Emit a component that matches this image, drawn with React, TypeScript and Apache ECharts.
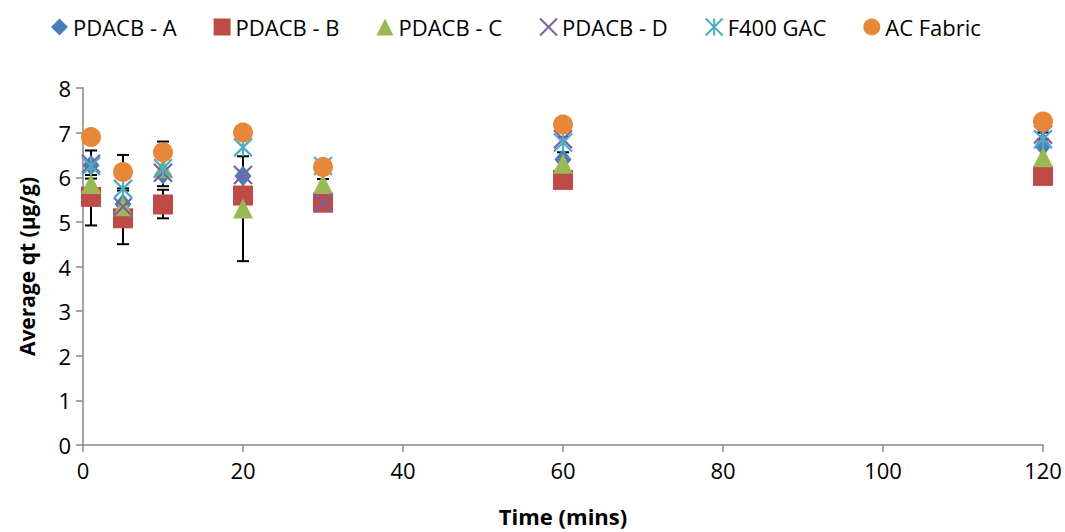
import React, { useEffect, useRef } from "react";
import * as echarts from "echarts";

const times = [1, 5, 10, 20, 30, 60, 120];
const pdacbA = [6.27, 5.4, 6.07, 6.03, 5.45, 6.4, 6.7];
const pdacbB = [5.56, 5.08, 5.39, 5.59, 5.43, 5.94, 6.03];
const pdacbC = [5.85, 5.35, 6.2, 5.3, 5.85, 6.3, 6.45];
const pdacbD = [6.3, 5.34, 6.1, 6.05, 5.43, 6.85, 6.96];
const f400 = [6.25, 5.74, 6.2, 6.67, 6.25, 6.78, 6.85];
const acFabric = [6.9, 6.12, 6.56, 7.0, 6.23, 7.18, 7.25];

// error bars: [time, low, high]
const errorBars = [
  [1, 5.97, 6.6],
  [1, 4.92, 6.05],
  [5, 5.75, 6.5],
  [5, 4.5, 5.7],
  [10, 5.8, 6.8],
  [10, 5.08, 5.72],
  [20, 4.12, 6.47],
  [30, 5.96, 6.2],
  [60, 6.56, 6.9],
  [120, 6.85, 7.0],
];

const legendNames = ["PDACB - A", "PDACB - B", "PDACB - C", "PDACB - D", "F400 GAC", "AC Fabric"];

const FONT = "'Open Sans', sans-serif";

const X_PATH = "path://M0,0 L10,10 M10,0 L0,10";
const STAR_PATH = "path://M0,0 L10,10 M10,0 L0,10 M5,0 L5,10";

export default function App() {
  const ref = useRef<HTMLDivElement>(null);
  useEffect(() => {
    document.body.style.margin = "0";
    document.body.style.overflow = "hidden";
    document.documentElement.style.overflow = "hidden";
    if (!ref.current) return;
    const chart = echarts.init(ref.current, null, { renderer: "svg" });
    const pts = (vals: number[]) => times.map((t, i) => [t, vals[i]]);
    const option: any = {
      animation: false,
      backgroundColor: "#ffffff",
      textStyle: { fontFamily: FONT },
      legend: {
        top: 11,
        left: 46,
        itemGap: 37,
        itemWidth: 17,
        itemHeight: 17,
        textStyle: { fontFamily: FONT, fontSize: 22, color: "#000" },
        data: legendNames,
      },
      grid: { left: 83, right: 22, top: 88, bottom: 83, containLabel: false },
      xAxis: {
        type: "value",
        min: 0,
        max: 120,
        interval: 20,
        name: "Time (mins)",
        nameLocation: "middle",
        nameGap: 60,
        nameTextStyle: { fontFamily: FONT, fontSize: 22, fontWeight: "bold", color: "#000" },
        axisLine: { show: true, lineStyle: { color: "#868686", width: 1.5 } },
        axisTick: { show: true, length: 7, lineStyle: { color: "#868686", width: 1.5 } },
        axisLabel: { fontFamily: FONT, fontSize: 22, color: "#000", margin: 14 },
        splitLine: { show: false },
      },
      yAxis: {
        type: "value",
        min: 0,
        max: 8,
        interval: 1,
        name: "Average qt (µg/g)",
        nameLocation: "middle",
        nameGap: 46,
        nameRotate: 90,
        nameTextStyle: { fontFamily: FONT, fontSize: 21, fontWeight: "bold", color: "#000" },
        axisLine: { show: true, lineStyle: { color: "#868686", width: 1.5 } },
        axisTick: { show: true, length: 7, lineStyle: { color: "#868686", width: 1.5 } },
        axisLabel: { fontFamily: FONT, fontSize: 22, color: "#000", margin: 12 },
        splitLine: { show: false },
      },
      series: [
        {
          type: "custom",
          name: "errors",
          z: 1,
          data: errorBars,
          encode: { x: 0, y: [1, 2] },
          renderItem: (params: any, api: any) => {
            const x = api.value(0);
            const lo = api.coord([x, api.value(1)]);
            const hi = api.coord([x, api.value(2)]);
            const w = 6;
            const style = { stroke: "#000", lineWidth: 2 };
            return {
              type: "group",
              children: [
                { type: "line", shape: { x1: lo[0], y1: lo[1], x2: hi[0], y2: hi[1] }, style },
                { type: "line", shape: { x1: lo[0] - w, y1: lo[1], x2: lo[0] + w, y2: lo[1] }, style },
                { type: "line", shape: { x1: hi[0] - w, y1: hi[1], x2: hi[0] + w, y2: hi[1] }, style },
              ],
            };
          },
        },
        {
          name: "PDACB - A",
          type: "scatter",
          z: 2,
          symbol: "diamond",
          symbolSize: [17, 21],
          itemStyle: { color: "#4A7EBB", opacity: 1 },
          data: pts(pdacbA),
        },
        {
          name: "PDACB - B",
          type: "scatter",
          z: 3,
          symbol: "rect",
          symbolSize: 20,
          itemStyle: { color: "#BE4B48", opacity: 1 },
          data: pts(pdacbB),
        },
        {
          name: "PDACB - C",
          type: "scatter",
          z: 4,
          symbol: "triangle",
          symbolSize: [20, 20],
          itemStyle: { color: "#98B954", opacity: 1 },
          data: pts(pdacbC),
        },
        {
          name: "PDACB - D",
          type: "scatter",
          z: 5,
          symbol: X_PATH,
          symbolSize: 18,
          itemStyle: { color: "transparent", borderColor: "#7D60A0", borderWidth: 2.2, opacity: 1 },
          data: pts(pdacbD),
        },
        {
          name: "F400 GAC",
          type: "scatter",
          z: 6,
          symbol: STAR_PATH,
          symbolSize: 18,
          itemStyle: { color: "transparent", borderColor: "#4BACC6", borderWidth: 2.2, opacity: 1 },
          data: pts(f400),
        },
        {
          name: "AC Fabric",
          type: "scatter",
          z: 7,
          symbol: "circle",
          symbolSize: 20,
          itemStyle: { color: "#E8873A", opacity: 1 },
          data: pts(acFabric),
        },
      ],
    };
    chart.setOption(option);
    return () => chart.dispose();
  }, []);
  return <div ref={ref} style={{ width: 1065, height: 532 }} />;
}
